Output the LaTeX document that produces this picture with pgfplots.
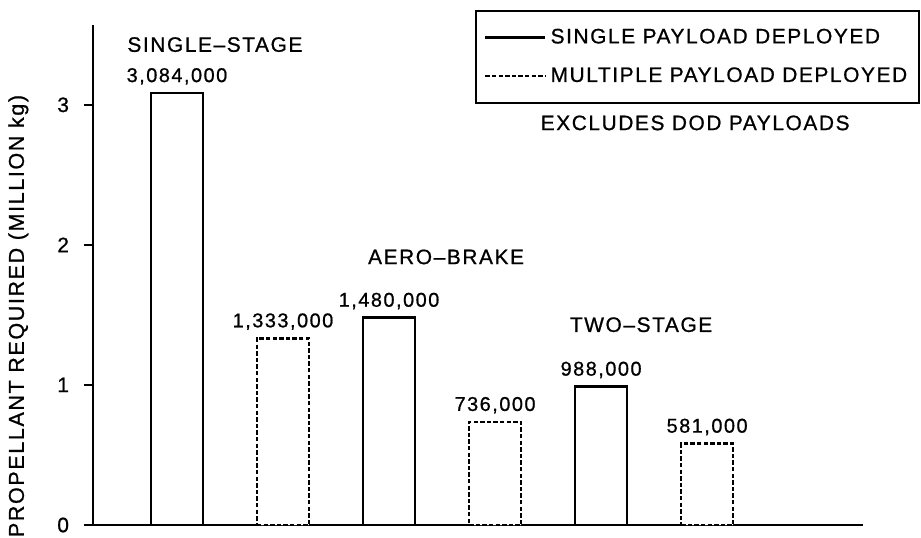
\documentclass[border=0pt]{standalone}
\usepackage{pgfplots}
\pgfplotsset{compat=1.18}
\usepackage{pgfplotstable}
\usepackage{fontspec}
\setmainfont{Liberation Sans}[LetterSpace=7.5, FakeBold=0.8]
\pgfplotstableread{
x y label
0 3.084 {3,084,000}
2 1.480 {1,480,000}
4 0.988 {988,000}
}\single
\pgfplotstableread{
x y label
1 1.333 {1,333,000}
3 0.736 {736,000}
5 0.581 {581,000}
}\multiple
\begin{document}
\begin{tikzpicture}
\useasboundingbox (-46.5bp,-6.5bp) rectangle (414bp,262.5bp);
\begin{axis}[
  at={(0,0)}, anchor=south west,
  scale only axis, width=385bp, height=250bp,
  xmin=-0.792, xmax=6.47, ymin=0, ymax=3.57,
  axis x line*=bottom, axis y line*=left,
  axis line style={line width=1bp, -},
  xtick=\empty, ytick={0,1,2,3},
  tick align=outside, major tick length=4.5bp,
  tick style={line width=1bp, black},
  yticklabel style={font=\fontsize{10.5}{12}\selectfont, xshift=-4bp},
  /pgf/number format/assume math mode=true,
  ylabel={PROPELLANT REQUIRED (MILLION kg)},
  ylabel style={at={(axis description cs:-0.097,0.418)}, anchor=center, font=\fontsize{10.8}{12}\selectfont},
  ybar, bar width=0.49, clip=false,
  point meta=explicit symbolic,
  nodes near coords,
  every node near coord/.append style={font=\fontsize{10}{12}\selectfont, anchor=base, yshift=5.5bp},
  legend style={at={(rel axis cs:1.074,1.03)}, anchor=north east, draw=black, line width=0.8bp,
    font=\fontsize{10.5}{12}\selectfont, row sep=6.5bp, inner xsep=4bp, inner ysep=7bp,
    /tikz/every even column/.append style={column sep=1.5bp}},
  legend cell align=left,
  legend image code/.code={\draw[#1, line width=1.2bp] (0bp,0bp) -- (30bp,0bp);},
]
\addplot[bar shift=0pt, draw=black, line width=1.3bp, fill=white] table[x=x, y=y, meta=label] {\single};
\addlegendentry{SINGLE PAYLOAD DEPLOYED}
\addplot[bar shift=0pt, draw=black, line width=1.3bp, fill=white, dash pattern=on 2.2bp off 1.1bp] table[x=x, y=y, meta=label] {\multiple};
\addlegendentry{MULTIPLE PAYLOAD DEPLOYED}
\node[font=\fontsize{10.5}{12}\selectfont] at (axis cs:0.358,3.43) {SINGLE–STAGE};
\node[font=\fontsize{10.5}{12}\selectfont] at (axis cs:2.538,1.914) {AERO–BRAKE};
\node[font=\fontsize{10.5}{12}\selectfont] at (axis cs:4.377,1.43) {TWO–STAGE};
\node[font=\fontsize{10.5}{12}\selectfont] at (axis cs:4.887,2.871) {EXCLUDES DOD PAYLOADS};
\end{axis}
\end{tikzpicture}
\end{document}
